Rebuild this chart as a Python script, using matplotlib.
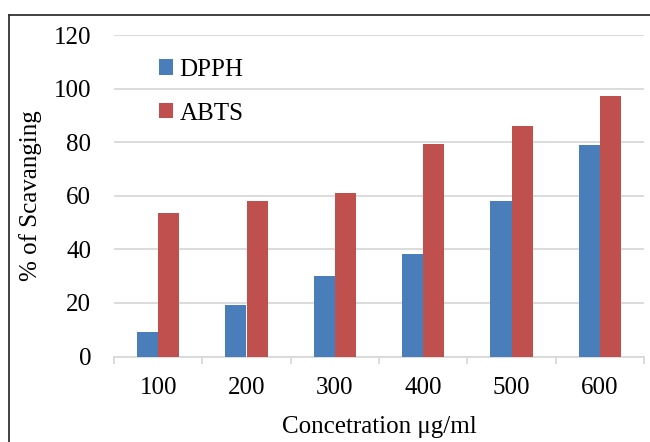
import numpy as np
import matplotlib.pyplot as plt
from matplotlib.lines import Line2D

# scavenging activity vs concentration
concentrations = ['100', '200', '300', '400', '500', '600']
dpph = [9.2, 19.3, 30.2, 38.3, 58.1, 78.8]
abts = [53.4, 58.2, 61.1, 79.5, 86.2, 97.3]
y_ticks = [0, 20, 40, 60, 80, 100, 120]

plt.rcParams['font.family'] = ['Liberation Serif', 'DejaVu Serif']
FS = 18

fig = plt.figure(figsize=(6.5, 4.42), dpi=100)
# plot area in pixels: x 114..644, y 35..356.5
ax = fig.add_axes([114 / 650, 1 - 356.5 / 442, (644 - 114) / 650, (356.5 - 35) / 442])

x = np.arange(len(concentrations))
w = 0.24
ax.bar(x - w / 2, dpph, w, color='#4a7ebb', label='DPPH', zorder=3)
ax.bar(x + w / 2, abts, w, color='#c0504d', label='ABTS', zorder=3)

ax.set_xlim(-0.5, len(concentrations) - 0.5)
ax.set_ylim(0, 120)
ax.set_yticks(y_ticks)
ax.yaxis.grid(True, color='#d9d9d9', linewidth=1.3, zorder=0)
ax.set_xticks(x)
ax.set_xticklabels(concentrations)
# tick marks sit between categories
ax.set_xticks(np.arange(-0.5, len(concentrations)), minor=True)
ax.tick_params(axis='x', which='major', length=0, pad=15, labelsize=FS)
ax.tick_params(axis='x', which='minor', length=5, color='#d9d9d9', width=1.3)
ax.tick_params(axis='y', length=0, pad=16.5, labelsize=FS)

for s in ['top', 'right', 'left']:
    ax.spines[s].set_visible(False)
ax.spines['bottom'].set_color('#d9d9d9')
ax.spines['bottom'].set_linewidth(1.3)

ax.set_xlabel('Concetration μg/ml', fontsize=FS, labelpad=12)
ax.set_ylabel('% of Scavanging', fontsize=FS, labelpad=8)

ax.legend(loc='upper left', bbox_to_anchor=((159 - 114) / 530, 0.926), frameon=False,
          fontsize=FS, handlelength=0.56, handleheight=0.56, handletextpad=0.25,
          labelspacing=0.87, borderpad=0, borderaxespad=0)

# outer frame
fig.add_artist(Line2D([9 / 650, 1], [1 - 15 / 442, 1 - 15 / 442], color='#333333', linewidth=1.3))
fig.add_artist(Line2D([9 / 650, 9 / 650], [0, 1 - 15 / 442], color='#333333', linewidth=1.3))

fig.savefig('out.png', dpi=100)
